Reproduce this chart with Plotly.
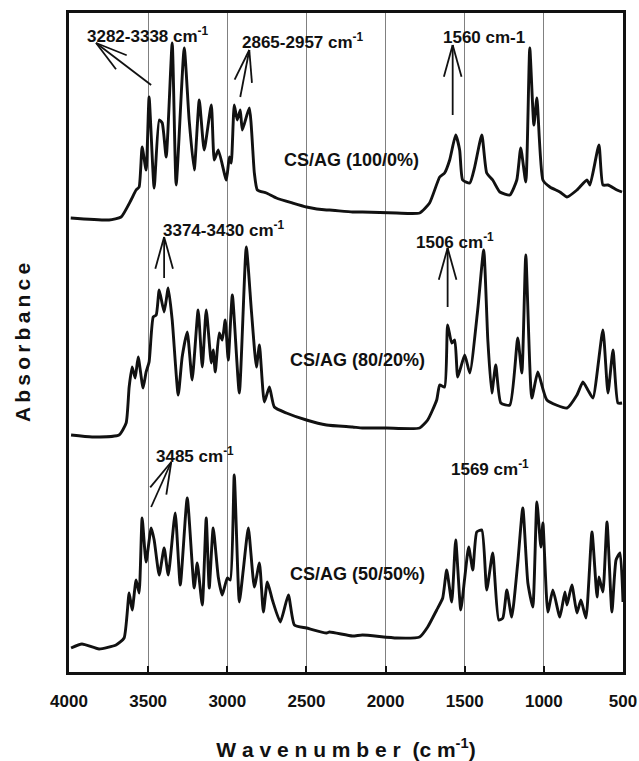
import math
import plotly.graph_objects as go

# ---- data (wavenumber in cm^-1, absorbance in arbitrary offset units) ----
wn_100 = [3989, 3747, 3671, 3608, 3576, 3557, 3538, 3513, 3494, 3462, 3430, 3411, 3386, 3348, 3323,
          3272, 3241, 3209, 3177, 3146, 3101, 3082, 3057, 3006, 2987, 2975, 2956, 2937, 2918, 2905,
          2861, 2829, 2810, 2753, 2690, 2589, 2500, 2373, 2354, 2209, 2146, 1930, 1785, 1722, 1658,
          1627, 1595, 1557, 1532, 1513, 1468, 1437, 1392, 1361, 1323, 1278, 1215, 1171, 1146, 1114,
          1089, 1063, 1044, 1006, 962, 899, 854, 791, 728, 709, 652, 627, 595, 538, 506]
ab_100 = [462, 460, 463, 480, 490, 493, 533, 510, 583, 492, 560, 557, 523, 637, 495,
          632, 560, 510, 580, 530, 575, 520, 530, 500, 523, 517, 575, 560, 570, 550,
          572, 507, 490, 487, 482, 477, 473, 470, 470, 468, 468, 467, 467, 477, 503,
          507, 520, 545, 530, 500, 497, 513, 545, 507, 500, 488, 485, 500, 532, 498,
          632, 555, 582, 500, 493, 488, 483, 490, 500, 495, 535, 495, 495, 490, 488]

wn_80 = [3987, 3854, 3684, 3639, 3620, 3601, 3582, 3563, 3532, 3513, 3494, 3468, 3449, 3430, 3399,
         3373, 3348, 3310, 3285, 3253, 3222, 3184, 3158, 3133, 3101, 3089, 3076, 3051, 3032, 3013,
         2994, 2968, 2924, 2880, 2848, 2816, 2797, 2766, 2734, 2703, 2627, 2500, 2373, 2209, 2146,
         1994, 1785, 1734, 1677, 1658, 1627, 1608, 1582, 1563, 1544, 1500, 1468, 1418, 1380, 1354,
         1329, 1304, 1272, 1215, 1165, 1139, 1114, 1076, 1038, 981, 854, 791, 753, 722, 690,
         627, 595, 563, 532, 506]
ab_80 = [245, 243, 245, 257, 293, 313, 302, 323, 292, 308, 318, 363, 365, 390, 368,
         392, 360, 285, 323, 348, 300, 370, 313, 370, 317, 330, 308, 347, 340, 360,
         320, 385, 287, 433, 370, 313, 335, 278, 293, 273, 267, 260, 255, 253, 252,
         252, 252, 260, 280, 295, 293, 355, 337, 340, 303, 325, 307, 370, 430, 340,
         287, 315, 277, 275, 342, 307, 425, 282, 308, 280, 272, 285, 298, 290, 282,
         350, 287, 330, 277, 277]

wn_50 = [3987, 3918, 3810, 3703, 3652, 3620, 3601, 3576, 3557, 3538, 3513, 3481, 3462, 3430, 3399,
         3373, 3329, 3297, 3253, 3209, 3190, 3158, 3133, 3114, 3089, 3057, 3032, 3000, 2981, 2956,
         2924, 2899, 2867, 2829, 2797, 2772, 2747, 2715, 2665, 2614, 2576, 2500, 2373, 2354, 2209,
         2146, 1930, 1785, 1734, 1677, 1639, 1614, 1582, 1557, 1525, 1500, 1475, 1449, 1424, 1392,
         1361, 1323, 1285, 1259, 1234, 1203, 1165, 1133, 1101, 1070, 1044, 1019, 1006, 975, 943,
         899, 867, 854, 823, 791, 766, 734, 696, 664, 652, 627, 601, 570, 544, 519, 500]
ab_50 = [32, 36, 31, 35, 42, 87, 70, 100, 87, 162, 118, 152, 140, 105, 132,
         105, 167, 95, 182, 92, 117, 75, 162, 92, 152, 103, 85, 102, 100, 205,
         78, 110, 152, 93, 117, 68, 98, 80, 58, 85, 55, 52, 47, 48, 44,
         45, 42, 43, 53, 70, 82, 110, 78, 140, 70, 102, 133, 110, 148, 150,
         90, 127, 60, 62, 90, 63, 117, 172, 97, 73, 178, 133, 157, 68, 90,
         63, 88, 75, 95, 67, 80, 62, 148, 83, 103, 88, 158, 68, 120, 127, 78]

series_names = ["CS/AG (100/0%)", "CS/AG (80/20%)", "CS/AG (50/50%)"]
tick_vals = [4000, 3500, 3000, 2500, 2000, 1500, 1000, 500]

# label positions (wavenumber, absorbance)
label_pos = [(2218, 520), (2177, 320), (2177, 106)]

# peak annotations: text, text pos, arrow tip, arrow tail (None = no arrow)
peak_notes = [
    ("3282-3338 cm<sup>-1</sup>", (3500, 645), (3829, 637), (3481, 595)),
    ("2865-2957 cm<sup>-1</sup>", (2522, 639), (2861, 630), (2918, 583)),
    ("1560 cm-1", (1376, 643), (1576, 635), (1576, 565)),
    ("3374-3430 cm<sup>-1</sup>", (3019, 451), (3399, 443), (3399, 402)),
    ("1506 cm<sup>-1</sup>", (1563, 439), (1608, 432), (1608, 373)),
    ("3485 cm<sup>-1</sup>", (3203, 225), (3354, 218), (3481, 173)),
    ("1569 cm<sup>-1</sup>", (1342, 212), None, None),
]

# layout geometry
W, H = 639, 761
ML, MR, MT, MB = 69, 16, 13, 89
XR = [4000, 500]
YR = [8, 667]
px_per_x = (W - ML - MR) / abs(XR[1] - XR[0])
px_per_y = (H - MT - MB) / (YR[1] - YR[0])

fig = go.Figure()
for wn, ab, nm in [(wn_100, ab_100, series_names[0]), (wn_80, ab_80, series_names[1]),
                   (wn_50, ab_50, series_names[2])]:
    fig.add_trace(go.Scatter(x=wn, y=ab, mode="lines", name=nm,
                             line=dict(color="#111111", width=2.9, shape="spline", smoothing=0.5),
                             showlegend=False))

font_b = "Liberation Sans"
ann = []
shapes = []
for nm, (lx, ly) in zip(series_names, label_pos):
    ann.append(dict(x=lx, y=ly, xref="x", yref="y", text="<b>" + nm + "</b>", showarrow=False,
                    font=dict(family=font_b, size=18, color="#111")))

HEAD_LEN = 33.0
HEAD_ANG = math.radians(15.5)
for txt, (tx, ty), tip, tail in peak_notes:
    ann.append(dict(x=tx, y=ty, xref="x", yref="y", text="<b>" + txt + "</b>", showarrow=False,
                    font=dict(family=font_b, size=17, color="#111")))
    if tip is None:
        continue
    # shaft
    shapes.append(dict(type="line", xref="x", yref="y", x0=tail[0], y0=tail[1], x1=tip[0], y1=tip[1],
                       line=dict(color="#111", width=1.8)))
    # chevron head computed in pixel space (x axis reversed)
    bx = -(tail[0] - tip[0]) * px_per_x
    by = (tail[1] - tip[1]) * px_per_y
    n = math.hypot(bx, by)
    bx, by = bx / n, by / n
    for s in (1, -1):
        a = s * HEAD_ANG
        rx = bx * math.cos(a) - by * math.sin(a)
        ry = bx * math.sin(a) + by * math.cos(a)
        ex = tip[0] - rx * HEAD_LEN / px_per_x
        ey = tip[1] + ry * HEAD_LEN / px_per_y
        shapes.append(dict(type="line", xref="x", yref="y", x0=tip[0], y0=tip[1], x1=ex, y1=ey,
                           line=dict(color="#111", width=1.8)))

absorb = "\u2009".join("Absorbance")

fig.update_layout(
    width=W, height=H,
    margin=dict(l=ML, r=MR, t=MT, b=MB, autoexpand=False),
    paper_bgcolor="white", plot_bgcolor="white",
    font=dict(family=font_b, color="#111"),
    annotations=ann, shapes=shapes,
    xaxis=dict(range=XR, tickvals=tick_vals, automargin=False,
               ticktext=["<b>%d</b>" % v for v in tick_vals],
               tickfont=dict(family=font_b, size=17, color="#111"),
               ticklabelstandoff=12,
               showgrid=True, gridcolor="#808080", gridwidth=1,
               showline=True, linecolor="#111", linewidth=2.5, mirror=True,
               ticks="inside", ticklen=6, tickwidth=2, tickcolor="#111",
               zeroline=False,
               title=dict(text="<b>W a v e n u m b e r  (c m<sup>-1</sup>)</b>",
                          font=dict(family=font_b, size=21, color="#111"), standoff=34)),
    yaxis=dict(range=YR, showticklabels=False, showgrid=False, zeroline=False, automargin=False,
               showline=True, linecolor="#111", linewidth=2.5, mirror=True, ticks="",
               title=dict(text="<b>" + absorb + "</b>",
                          font=dict(family=font_b, size=21, color="#111"), standoff=30)),
)

fig.write_html("out.html")
